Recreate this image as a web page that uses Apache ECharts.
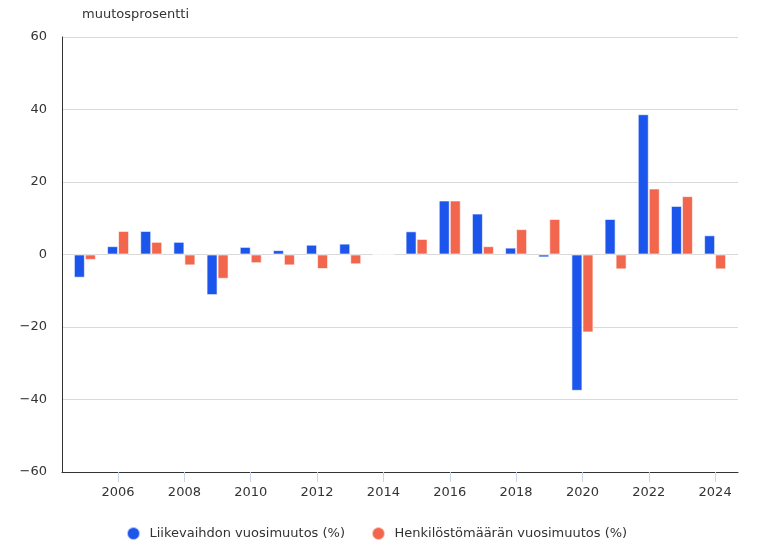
<!DOCTYPE html>
<html>
<head>
<meta charset="utf-8">
<script src="https://cdn.jsdelivr.net/npm/echarts@6/dist/echarts.min.js"></script>
<style>
  html, body { margin: 0; padding: 0; background: #fff; }
  #chart { width: 760px; height: 542px; }
</style>
</head>
<body>
<div id="chart"></div>
<script>
const years = [2005, 2006, 2007, 2008, 2009, 2010, 2011, 2012, 2013, 2014,
               2015, 2016, 2017, 2018, 2019, 2020, 2021, 2022, 2023, 2024];
const liikevaihto = [-6.4, 2.3, 6.5, 3.5, -11.2, 2.1, 1.2, 2.7, 3.0, 0.1,
                     6.4, 14.9, 11.3, 1.9, -0.8, -37.6, 9.8, 38.7, 13.4, 5.3];
const henkilosto = [-1.5, 6.5, 3.5, -3.0, -6.7, -2.4, -3.0, -4.0, -2.7, -0.1,
                    4.3, 14.9, 2.3, 7.0, 9.8, -21.5, -4.1, 18.2, 16.1, -4.1];
const xTickLabels = [2006, 2008, 2010, 2012, 2014, 2016, 2018, 2020, 2022, 2024];
const yTicks = [-60, -40, -20, 0, 20, 40, 60];
const seriesNames = ['Liikevaihdon vuosimuutos (%)', 'Henkilöstömäärän vuosimuutos (%)'];
const yAxisTitle = 'muutosprosentti';

const FONT = 'DejaVu Sans';
const FS = 13;
const chart = echarts.init(document.getElementById('chart'), null, { renderer: 'canvas' });

chart.setOption({
  backgroundColor: '#ffffff',
  animation: false,
  textStyle: { fontFamily: FONT },
  title: {
    text: yAxisTitle,
    left: 82, top: 8, padding: 0,
    textStyle: { fontFamily: FONT, fontSize: FS, fontWeight: 'normal', color: '#333333' }
  },
  grid: { left: 62, right: 22, top: 37, bottom: 70, containLabel: false },
  legend: {
    left: 121, top: 521,
    icon: 'circle', itemWidth: 22, itemHeight: 13, itemGap: 26,
    textStyle: { fontFamily: FONT, fontSize: FS, color: '#333333' },
    data: seriesNames
  },
  xAxis: {
    type: 'value',
    min: 2004.31, max: 2024.69,
    axisLine: { show: true, onZero: false, lineStyle: { color: '#333333', width: 1 } },
    axisTick: { show: true, inside: false, length: 10, customValues: xTickLabels,
                lineStyle: { color: '#ccd6eb', width: 1 } },
    axisLabel: { customValues: xTickLabels, margin: 14, color: '#333333',
                 fontFamily: FONT, fontSize: FS, formatter: v => String(v) },
    splitLine: { show: false }
  },
  yAxis: {
    type: 'value',
    min: -60, max: 60, interval: 20,
    axisLine: { show: true, lineStyle: { color: '#333333', width: 1 } },
    axisTick: { show: false },
    axisLabel: { margin: 15, color: '#333333', fontFamily: FONT, fontSize: FS,
                 formatter: v => String(v).replace('-', '\u2212') },
    splitLine: { show: true, lineStyle: { color: '#d9d9d9', width: 1 } }
  },
  series: [
    {
      name: seriesNames[0], type: 'bar', barWidth: 11, barGap: '0%',
      itemStyle: { color: '#1b55ec', borderColor: 'rgba(255,255,255,0.6)', borderWidth: 1 },
      data: years.map((y, i) => [y, liikevaihto[i]])
    },
    {
      name: seriesNames[1], type: 'bar', barWidth: 11, barGap: '0%',
      itemStyle: { color: '#f3664e', borderColor: 'rgba(255,255,255,0.6)', borderWidth: 1 },
      data: years.map((y, i) => [y, henkilosto[i]])
    }
  ]
});
</script>
</body>
</html>
